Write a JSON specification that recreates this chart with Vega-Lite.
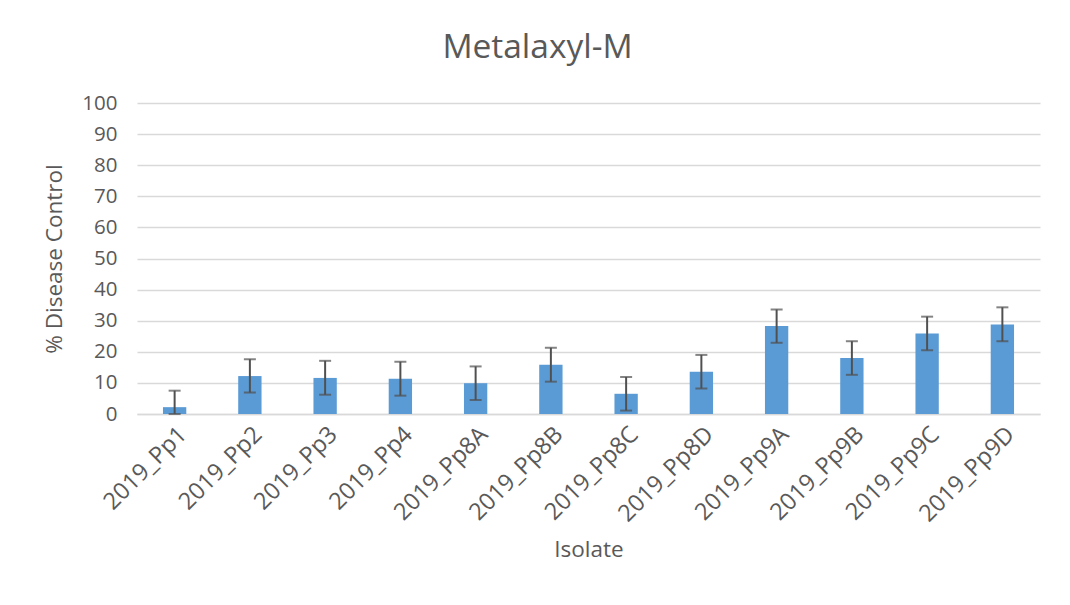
{
  "$schema": "https://vega.github.io/schema/vega-lite/v6.json",
  "autosize": "none",
  "width": 903,
  "height": 311,
  "padding": {"left": 137, "top": 103, "right": 30, "bottom": 191},
  "background": "white",
  "title": {
    "text": "Metalaxyl-M",
    "fontSize": 33.5,
    "font": "Open Sans",
    "fontWeight": "normal",
    "color": "#595959",
    "offset": 28,
    "dx": -51,
    "anchor": "middle"
  },
  "data": {
    "values": [
      {"isolate": "2019_Pp1", "value": 2.2, "lower": 0.0, "upper": 7.5},
      {"isolate": "2019_Pp2", "value": 12.2, "lower": 6.9, "upper": 17.6},
      {"isolate": "2019_Pp3", "value": 11.6, "lower": 6.2, "upper": 17.1},
      {"isolate": "2019_Pp4", "value": 11.3, "lower": 5.9, "upper": 16.8},
      {"isolate": "2019_Pp8A", "value": 9.9, "lower": 4.5, "upper": 15.3},
      {"isolate": "2019_Pp8B", "value": 15.8, "lower": 10.4, "upper": 21.3},
      {"isolate": "2019_Pp8C", "value": 6.5, "lower": 1.1, "upper": 11.9},
      {"isolate": "2019_Pp8D", "value": 13.6, "lower": 8.2, "upper": 19.0},
      {"isolate": "2019_Pp9A", "value": 28.3, "lower": 22.9, "upper": 33.6},
      {"isolate": "2019_Pp9B", "value": 18.0, "lower": 12.6, "upper": 23.4},
      {"isolate": "2019_Pp9C", "value": 25.9, "lower": 20.5, "upper": 31.3},
      {"isolate": "2019_Pp9D", "value": 28.8, "lower": 23.4, "upper": 34.3}
    ]
  },
  "encoding": {
    "x": {
      "field": "isolate",
      "type": "nominal",
      "sort": null,
      "scale": {"paddingInner": 0, "paddingOuter": 0},
      "axis": {
        "title": "Isolate",
        "labelAngle": -45,
        "labelFontSize": 23.5,
        "labelPadding": 8,
        "labelOverlap": false,
        "titlePadding": 13,
        "ticks": false,
        "tickSize": 0,
        "domainColor": "#d9d9d9",
        "domainWidth": 1.5,
        "grid": false
      }
    }
  },
  "layer": [
    {
      "mark": {"type": "bar", "color": "#5b9bd5", "width": {"band": 0.31}},
      "encoding": {
        "y": {
          "field": "value",
          "type": "quantitative",
          "scale": {"domain": [0, 100], "nice": false},
          "title": "% Disease Control"
        }
      }
    },
    {
      "mark": {"type": "rule", "color": "#505050", "strokeWidth": 2},
      "encoding": {
        "y": {"field": "lower", "type": "quantitative", "title": "% Disease Control"},
        "y2": {"field": "upper"}
      }
    },
    {
      "mark": {"type": "tick", "color": "#505050", "thickness": 2, "size": 12, "orient": "horizontal"},
      "encoding": {
        "y": {"field": "lower", "type": "quantitative", "title": "% Disease Control"}
      }
    },
    {
      "mark": {"type": "tick", "color": "#505050", "thickness": 2, "size": 12, "orient": "horizontal"},
      "encoding": {
        "y": {"field": "upper", "type": "quantitative", "title": "% Disease Control"}
      }
    }
  ],
  "config": {
    "view": {"stroke": null},
    "axis": {
      "labelFont": "Open Sans",
      "labelFontSize": 20.5,
      "labelColor": "#595959",
      "titleFont": "Open Sans",
      "titleFontSize": 22.5,
      "titleFontWeight": "normal",
      "titleColor": "#595959"
    },
    "axisY": {
      "values": [0, 10, 20, 30, 40, 50, 60, 70, 80, 90, 100],
      "labelOverlap": false,
      "labelPadding": 20,
      "ticks": false,
      "tickSize": 0,
      "domain": false,
      "gridColor": "#d9d9d9",
      "gridWidth": 1.5,
      "titlePadding": 15
    }
  }
}
